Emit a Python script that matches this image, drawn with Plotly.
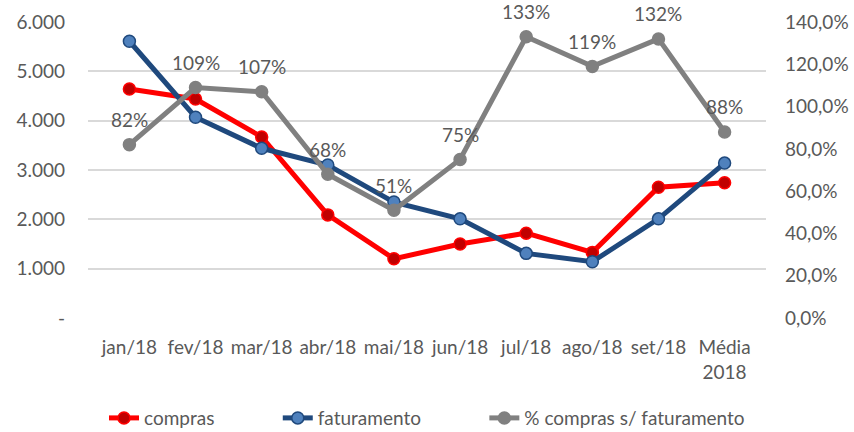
import plotly.graph_objects as go

categories = ["jan/18", "fev/18", "mar/18", "abr/18", "mai/18", "jun/18", "jul/18", "ago/18", "set/18", "Média<br>2018"]
compras = [4640, 4440, 3670, 2090, 1200, 1500, 1720, 1330, 2650, 2740]
faturamento = [5610, 4070, 3440, 3100, 2350, 2010, 1310, 1140, 2010, 3140]
pct = [0.82, 1.09, 1.07, 0.68, 0.51, 0.75, 1.33, 1.19, 1.32, 0.88]

left_vals = [0, 1000, 2000, 3000, 4000, 5000, 6000]
left_text = ["-", "1.000", "2.000", "3.000", "4.000", "5.000", "6.000"]
right_vals = [0, 0.2, 0.4, 0.6, 0.8, 1.0, 1.2, 1.4]

FONT = "Lato"
TXT = "#595959"
FS = 19
PAD = "\u00a0" * 12

fig = go.Figure()
fig.add_trace(go.Scatter(
    x=categories, y=compras, name="compras" + PAD, mode="lines+markers",
    line=dict(color="#FF0000", width=5),
    marker=dict(size=12, color="#C00000", line=dict(color="#FF0000", width=1.5)),
    yaxis="y"))
fig.add_trace(go.Scatter(
    x=categories, y=faturamento, name="faturamento" + PAD, mode="lines+markers",
    line=dict(color="#1F497D", width=5),
    marker=dict(size=12, color="#4F81BD", line=dict(color="#1F497D", width=1.5)),
    yaxis="y"))
fig.add_trace(go.Scatter(
    x=categories, y=pct, name="% compras s/ faturamento", mode="lines+markers",
    line=dict(color="#808080", width=5),
    marker=dict(size=12, color="#808080", line=dict(color="#808080", width=1.5)),
    yaxis="y2"))

for c, p in zip(categories, pct):
    fig.add_annotation(x=c, y=p, yref="y2", xref="x", text=f"{round(p*100)}%",
                       showarrow=False, yshift=25, font=dict(family=FONT, size=FS, color=TXT))

fig.update_layout(
    width=854, height=432,
    margin=dict(l=88, r=88, t=22, b=114, autoexpand=False),
    paper_bgcolor="white", plot_bgcolor="white",
    separators=",.",
    font=dict(family=FONT, size=FS, color=TXT),
    showlegend=True,
    legend=dict(orientation="h", x=0.5, xanchor="center", y=-0.338, yanchor="middle",
                font=dict(family=FONT, size=19, color=TXT), itemwidth=30,
                tracegroupgap=0),
    xaxis=dict(showgrid=False, showline=False, zeroline=False,
               ticks="outside", ticklen=12, tickcolor="rgba(0,0,0,0)",
               tickfont=dict(family=FONT, size=FS, color=TXT)),
    yaxis=dict(range=[0, 6000], tickvals=left_vals, ticktext=left_text,
               showgrid=True, gridcolor="#D9D9D9", gridwidth=1.5, zeroline=False,
               ticks="", ticklabelstandoff=22,
               tickfont=dict(family=FONT, size=FS, color=TXT)),
    yaxis2=dict(range=[0, 1.4], tickvals=right_vals, tickformat=".1%",
                overlaying="y", side="right", showgrid=False, zeroline=False,
                ticks="", ticklabelstandoff=18,
                tickfont=dict(family=FONT, size=FS, color=TXT)),
)

fig.write_html("out.html", config={"displayModeBar": False},
               post_script="document.body.style.margin='0';document.body.style.overflow='hidden';")
